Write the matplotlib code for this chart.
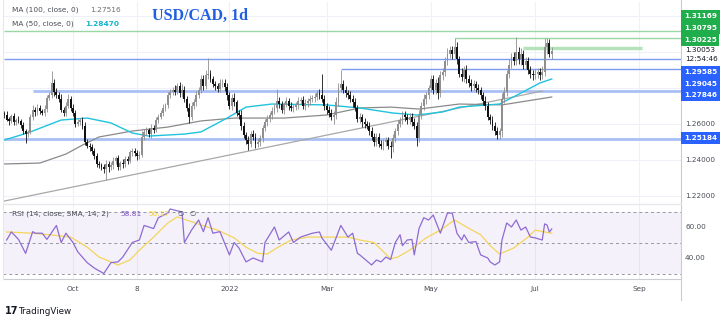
"""USD/CAD 1d в стиле TradingView: свечи, MA, уровни и RSI."""

import matplotlib

matplotlib.use("Agg")

import matplotlib.pyplot as plt
import numpy as np
from matplotlib.lines import Line2D

# ---- данные (индекс бара: 0 = 1 октября 2021) ----
first_bar = -29
first_open = 1.2660

closes = [
    1.2650, 1.2625, 1.2615, 1.2645, 1.2610, 1.2620, 1.2615, 1.2595, 1.2560, 1.2545,
    1.2555, 1.2640, 1.2680, 1.2665, 1.2690, 1.2670, 1.2660, 1.2685, 1.2745, 1.2760,
    1.2830, 1.2780, 1.2760, 1.2740, 1.2680, 1.2660, 1.2700, 1.2740, 1.2690, 1.2660,
    1.2600, 1.2610, 1.2620, 1.2590, 1.2500, 1.2480, 1.2470, 1.2450, 1.2420, 1.2380,
    1.2370, 1.2360, 1.2350, 1.2380, 1.2360, 1.2370, 1.2395, 1.2410, 1.2360, 1.2385,
    1.2375, 1.2405, 1.2395, 1.2445, 1.2450, 1.2440, 1.2420, 1.2430, 1.2530, 1.2555,
    1.2565, 1.2545, 1.2580, 1.2565, 1.2620, 1.2640, 1.2660, 1.2690, 1.2705, 1.2760,
    1.2775, 1.2790, 1.2780, 1.2810, 1.2770, 1.2790, 1.2740, 1.2690, 1.2640, 1.2700,
    1.2720, 1.2760, 1.2790, 1.2850, 1.2810, 1.2870, 1.2880, 1.2850, 1.2820, 1.2810,
    1.2795, 1.2825, 1.2830, 1.2805, 1.2760, 1.2700, 1.2745, 1.2720, 1.2660, 1.2650,
    1.2590, 1.2540, 1.2510, 1.2490, 1.2545, 1.2530, 1.2490, 1.2500, 1.2520, 1.2580,
    1.2610, 1.2630, 1.2650, 1.2670, 1.2690, 1.2730, 1.2710, 1.2680, 1.2710, 1.2730,
    1.2700, 1.2690, 1.2695, 1.2705, 1.2730, 1.2735, 1.2700, 1.2715, 1.2730, 1.2740,
    1.2745, 1.2750, 1.2770, 1.2760, 1.2740, 1.2700, 1.2680, 1.2660, 1.2640, 1.2650,
    1.2720, 1.2800, 1.2820, 1.2790, 1.2770, 1.2760, 1.2740, 1.2720, 1.2690, 1.2630,
    1.2640, 1.2610, 1.2600, 1.2590, 1.2560, 1.2530, 1.2500, 1.2530, 1.2490, 1.2480,
    1.2500, 1.2510, 1.2480, 1.2470, 1.2520, 1.2560, 1.2600, 1.2620, 1.2650, 1.2640,
    1.2620, 1.2640, 1.2610, 1.2590, 1.2520, 1.2650, 1.2700, 1.2740, 1.2760, 1.2800,
    1.2850, 1.2790, 1.2830, 1.2770, 1.2870, 1.2890, 1.2950, 1.2990, 1.3010, 1.2990,
    1.3030, 1.2960, 1.2880, 1.2860, 1.2900, 1.2850, 1.2830, 1.2810, 1.2820, 1.2800,
    1.2790, 1.2760, 1.2730, 1.2700, 1.2640, 1.2620, 1.2590, 1.2560, 1.2540, 1.2560,
    1.2740, 1.2780, 1.2880, 1.2930, 1.2970, 1.2950, 1.3000, 1.2960, 1.2990, 1.2930,
    1.2950, 1.2900, 1.2880, 1.2870, 1.2880, 1.2890, 1.2870, 1.2890, 1.3030, 1.3050,
    1.2990, 1.3005,
]

# тени свечей в пунктах
up_wick = [
    12, 20, 15, 10, 18, 14, 22, 12, 16, 10,
    14, 18, 25, 12, 20, 15, 12, 22, 18, 20,
    66, 20, 18, 15, 25, 14, 20, 28, 16, 22,
    15, 20, 12, 18, 20, 14, 12, 18, 15, 20,
    14, 12, 16, 20, 15, 18, 22, 14, 20, 12,
    18, 15, 20, 12, 16, 14, 18, 20, 30, 15,
    20, 12, 18, 15, 20, 14, 16, 22, 12, 18,
    20, 15, 25, 18, 22, 30, 20, 16, 25, 20,
    18, 22, 15, 25, 20, 28, 84, 22, 18, 20,
    15, 25, 20, 18, 22, 16, 20, 25, 15, 20,
    30, 20, 18, 22, 15, 20, 18, 25, 20, 15,
    18, 20, 16, 22, 20, 66, 18, 20, 15, 22,
    16, 20, 18, 15, 20, 14, 18, 22, 15, 20,
    18, 22, 20, 25, 118, 20, 18, 22, 25, 20,
    30, 25, 81, 22, 20, 18, 25, 20, 22, 18,
    20, 15, 22, 18, 20, 25, 20, 18, 22, 20,
    15, 20, 18, 25, 22, 20, 25, 18, 20, 22,
    18, 20, 22, 25, 20, 30, 22, 25, 20, 18,
    22, 25, 20, 30, 25, 20, 25, 30, 22, 25,
    47, 25, 20, 30, 22, 25, 20, 18, 25, 20,
    22, 18, 20, 25, 20, 18, 22, 20, 25, 20,
    30, 25, 22, 30, 25, 30, 84, 25, 30, 22,
    25, 20, 22, 18, 25, 20, 22, 30, 50, 28,
    20, 25,
]
down_wick = [
    15, 10, 20, 12, 18, 15, 10, 20, 14, 51,
    15, 12, 18, 20, 14, 16, 12, 15, 20, 14,
    18, 22, 15, 20, 14, 18, 16, 12, 20, 15,
    18, 12, 15, 20, 16, 14, 18, 15, 12, 20,
    14, 18, 20, 61, 25, 15, 18, 20, 14, 16,
    20, 15, 18, 14, 22, 16, 20, 15, 12, 18,
    14, 18, 20, 15, 12, 16, 14, 18, 20, 15,
    18, 14, 20, 16, 22, 18, 15, 20, 33, 18,
    16, 20, 15, 18, 22, 14, 20, 18, 16, 20,
    18, 15, 22, 20, 25, 18, 20, 22, 18, 20,
    25, 20, 22, 35, 20, 18, 22, 20, 25, 18,
    20, 22, 18, 20, 16, 25, 20, 18, 22, 16,
    20, 18, 22, 15, 20, 18, 16, 20, 18, 22,
    15, 20, 18, 22, 20, 25, 22, 20, 18, 40,
    20, 22, 25, 20, 18, 22, 20, 25, 18, 20,
    22, 25, 20, 18, 22, 20, 25, 22, 20, 18,
    22, 20, 18, 60, 25, 20, 22, 18, 20, 22,
    20, 18, 22, 20, 40, 22, 20, 25, 30, 22,
    20, 25, 22, 30, 20, 25, 22, 20, 25, 30,
    22, 25, 20, 22, 25, 20, 22, 25, 20, 22,
    25, 20, 22, 25, 20, 22, 25, 20, 22, 25,
    30, 25, 22, 25, 20, 25, 22, 25, 30, 22,
    25, 20, 22, 25, 20, 22, 25, 20, 22, 40,
    15, 30,
]

# скользящие средние (узлы: индекс бара, значение)
ma100_idx = [-29, -14, -3, 4, 11, 25, 40, 54, 68, 89, 107, 121, 134, 146, 163, 181, 202]
ma100_val = [1.2378, 1.2383, 1.2433, 1.2483, 1.2528, 1.2561, 1.2583, 1.2617, 1.2633,
             1.2633, 1.2650, 1.2689, 1.2694, 1.2683, 1.2711, 1.2706, 1.2750]
ma50_idx = [-29, -22, -18, -5, 6, 16, 25, 32, 47, 54, 65, 73, 84, 107, 121, 135, 145,
            156, 163, 180, 189, 197, 202]
ma50_val = [1.2511, 1.2539, 1.2556, 1.2622, 1.2633, 1.2606, 1.2550, 1.2533, 1.2544,
            1.2556, 1.2633, 1.2694, 1.2711, 1.2706, 1.2689, 1.2661, 1.2650, 1.2667,
            1.2694, 1.2711, 1.2772, 1.2828, 1.2850]

rsi_idx = [-28, -26, -23, -20, -17, -16, -13, -11, -7, -5, -3, 0, 2, 6, 9, 13, 16, 19,
           21, 25, 28, 30, 34, 36, 40, 41, 46, 47, 50, 53, 55, 57, 59, 62, 66, 68, 70,
           73, 76, 80, 81, 85, 87, 91, 93, 96, 101, 104, 105, 109, 113, 116, 118, 120,
           121, 126, 128, 130, 132, 134, 136, 138, 139, 141, 143, 144, 146, 148, 150,
           152, 155, 158, 160, 162, 164, 165, 167, 170, 172, 175, 176, 178, 180, 181,
           183, 185, 187, 189, 191, 193, 195, 198, 199, 200, 201, 202]
rsi_val = [51.6, 56.8, 52.0, 43.0, 57.0, 56.0, 56.0, 52.0, 61.0, 50.0, 56.0, 50.0, 44.0,
           37.0, 33.5, 30.0, 37.0, 37.5, 40.6, 50.0, 51.6, 61.0, 59.0, 66.0, 69.0, 71.6,
           69.7, 50.0, 58.0, 64.5, 57.0, 66.0, 56.0, 57.0, 42.0, 50.0, 46.5, 37.5, 40.0,
           37.5, 50.0, 60.0, 51.6, 56.8, 50.0, 53.5, 56.0, 56.8, 53.0, 45.0, 61.0, 53.5,
           56.0, 43.0, 42.0, 35.5, 38.7, 37.5, 40.6, 39.0, 50.0, 55.0, 48.0, 51.6, 52.0,
           42.0, 59.0, 66.0, 64.5, 67.7, 56.0, 69.0, 69.0, 56.0, 51.6, 55.0, 50.0, 50.6,
           42.0, 40.0, 37.5, 35.5, 37.5, 51.6, 62.6, 60.0, 64.5, 58.0, 60.0, 53.5, 53.0,
           51.6, 62.0, 61.3, 56.8, 58.7]
rsi_ma_idx = [-28, -17, -10, -1, 6, 11, 16, 19, 24, 28, 34, 40, 44, 48, 54, 61, 68, 73,
              78, 82, 86, 92, 99, 107, 116, 121, 127, 134, 137, 142, 149, 155, 161, 166,
              172, 176, 180, 186, 192, 195, 199, 202]
rsi_ma_val = [56.8, 56.0, 55.0, 53.5, 47.0, 40.6, 37.5, 35.5, 38.7, 45.0, 53.5, 62.6,
              66.5, 64.5, 61.3, 58.0, 53.0, 47.0, 43.0, 42.6, 46.5, 51.6, 53.5, 53.5,
              53.5, 51.6, 50.0, 39.5, 40.6, 45.0, 53.0, 58.0, 64.5, 60.0, 55.0, 48.0,
              42.6, 46.5, 53.5, 58.0, 56.8, 56.0]

# наклонная линия поддержки
trend_idx = [-29, 198]
trend_val = [1.2172, 1.2783]

# горизонтальные уровни: цена, начало (индекс бара), конец, цвет, толщина
levels = [
    (1.31169, -29, 257, "#9ad7a4", 1.0),
    (1.30795, 161, 257, "#9ad7a4", 1.0),
    (1.30225, 190, 240, "#b5e2bd", 2.5),
    (1.29585, -29, 257, "#7d9cf0", 1.0),
    (1.29045, 113, 257, "#7d9cf0", 1.0),
    (1.27846, -17, 257, "#a9c0f5", 2.0),
    (1.25184, -29, 257, "#a9c0f5", 2.0),
]

# подписи правой шкалы: текст, y в пикселях, фон
price_labels = [
    ("1.31169", 16, "#1fae4b"),
    ("1.30795", 28, "#1fae4b"),
    ("1.30225", 40, "#1fae4b"),
    ("1.30053", 50, None),
    ("12:54:46", 59, None),
    ("1.29585", 72, "#2962ff"),
    ("1.29045", 84, "#2962ff"),
    ("1.27846", 95, "#2962ff"),
    ("1.26000", 124, None),
    ("1.25184", 138, "#2962ff"),
    ("1.24000", 160, None),
    ("1.22000", 196, None),
    ("60.00", 227, None),
    ("40.00", 258, None),
]

time_ticks = [0, 27, 66, 107, 151, 195, 239]
time_labels = ["Oct", "8", "2022", "Mar", "May", "Jul", "Sep"]

# ---- геометрия в пикселях ----
W, H = 725, 326
X_LEFT, X_RIGHT = 3, 681
PRICE_TOP, PRICE_BOT = 2, 204
RSI_BOT = 279
XLIM = ((X_LEFT - 73) / 2.37, (X_RIGHT - 73) / 2.37)


def fx(px):
    return px / W


def fy(py):
    return 1 - py / H


closes = np.array(closes)
idx = np.arange(first_bar, first_bar + len(closes))
opens = np.concatenate([[first_open], closes[:-1]])
highs = np.maximum(opens, closes) + np.array(up_wick) / 10000
lows = np.minimum(opens, closes) - np.array(down_wick) / 10000

fig = plt.figure(figsize=(W / 100, H / 100), dpi=100)
fig.patch.set_facecolor("white")

ax = fig.add_axes([fx(X_LEFT), fy(PRICE_BOT), fx(X_RIGHT - X_LEFT),
                   (PRICE_BOT - PRICE_TOP) / H])
ax_rsi = fig.add_axes([fx(X_LEFT), fy(RSI_BOT), fx(X_RIGHT - X_LEFT),
                       (RSI_BOT - PRICE_BOT) / H])

for a in (ax, ax_rsi):
    a.set_xlim(*XLIM)
    a.set_xticks([])
    a.set_yticks([])
    for s in a.spines.values():
        s.set_visible(False)
    for t in time_ticks:
        a.axvline(t, color="#eef1f7", lw=0.8, zorder=0)

# цена
ax.set_ylim(1.26 - (PRICE_BOT - 124) / 1800, 1.26 + (124 - PRICE_TOP) / 1800)
for p in [1.22, 1.24, 1.26, 1.28, 1.30, 1.32]:
    ax.axhline(p, color="#eef1f7", lw=0.8, zorder=0)

for price, x0, x1, color, lw in levels:
    ax.plot([x0, x1], [price, price], color=color, lw=lw, zorder=1,
            solid_capstyle="butt")

ax.plot(trend_idx, trend_val, color="#a8a8a8", lw=0.9, zorder=1)
ax.plot(ma100_idx, ma100_val, color="#8a8a8a", lw=0.9, zorder=2)
ax.plot(ma50_idx, ma50_val, color="#1fc3dd", lw=1.0, zorder=2)

up = closes >= opens
colors = np.where(up, "#8f8f8f", "#111111")
ax.vlines(idx, lows, highs, colors=colors, lw=0.6, zorder=3)
body_h = np.maximum(np.abs(closes - opens), 0.0002)
ax.bar(idx, body_h, bottom=np.minimum(opens, closes), width=0.78,
       color=colors, linewidth=0, zorder=4)

# RSI
ax_rsi.set_ylim(30 - (RSI_BOT - 273.5) / 1.55, 70 + (211.5 - PRICE_BOT) / 1.55)
ax_rsi.axhspan(30, 70, color="#7e57c2", alpha=0.08, lw=0, zorder=0)
for lvl in (70, 50, 30):
    ax_rsi.axhline(lvl, color="#9598a1", lw=0.7, ls=(0, (3, 3)), zorder=1)
ax_rsi.plot(rsi_ma_idx, rsi_ma_val, color="#f5d55a", lw=0.9, zorder=2)
ax_rsi.plot(rsi_idx, rsi_val, color="#8e6bd1", lw=0.9, zorder=3)

# рамки и разделители
line_kw = dict(transform=fig.transFigure, color="#c9ccd3", lw=0.8)
fig.add_artist(Line2D([fx(X_RIGHT), fx(X_RIGHT)], [fy(0), fy(300)], **line_kw))
fig.add_artist(Line2D([fx(X_LEFT), fx(X_RIGHT)], [fy(PRICE_BOT), fy(PRICE_BOT)],
                      transform=fig.transFigure, color="#e6e8ee", lw=1.0))
fig.add_artist(Line2D([fx(X_LEFT), fx(X_RIGHT)], [fy(RSI_BOT), fy(RSI_BOT)], **line_kw))
fig.add_artist(Line2D([fx(X_LEFT), fx(X_LEFT)], [fy(0), fy(RSI_BOT)],
                      transform=fig.transFigure, color="#e6e8ee", lw=0.8))

# подписи оси времени
for t, lab in zip(time_ticks, time_labels):
    px = 73 + 2.37 * t
    fig.text(fx(px), fy(289), lab, ha="center", va="center", fontsize=5.2,
             color="#4a4d57")

# правая шкала
for text, py, bg in price_labels:
    if bg:
        fig.text(fx(684), fy(py), text, ha="left", va="center", fontsize=5.2,
                 color="white", fontweight="bold",
                 bbox=dict(boxstyle="square,pad=0.35", fc=bg, ec="none"))
    else:
        fig.text(fx(685), fy(py), text, ha="left", va="center", fontsize=5.2,
                 color="#131722" if py < 70 else "#4a4d57")

# легенды
fig.text(fx(12), fy(10), "MA (100, close, 0)", fontsize=5.3, color="#4a4d57",
         va="center")
fig.text(fx(90), fy(10), "1.27516", fontsize=5.3, color="#6f6f6f", va="center")
fig.text(fx(12), fy(24), "MA (50, close, 0)", fontsize=5.3, color="#4a4d57",
         va="center")
fig.text(fx(85), fy(24), "1.28470", fontsize=5.3, color="#12b5cb",
         fontweight="bold", va="center")
fig.text(fx(152), fy(16), "USD/CAD, 1d", fontsize=11.5, color="#1f5fe0",
         fontweight="bold", family="Liberation Serif", va="center")

fig.text(fx(12), fy(214), "RSI (14, close, SMA, 14, 2)", fontsize=5.3,
         color="#4a4d57", va="center")
fig.text(fx(120), fy(214), "58.81", fontsize=5.3, color="#7e57c2", va="center")
fig.text(fx(148), fy(214), "56.17", fontsize=5.3, color="#f2d240", va="center")
fig.text(fx(177), fy(214), "\u2205", fontsize=5.3, color="#4a4d57", va="center")
fig.text(fx(189), fy(214), "\u2205", fontsize=5.3, color="#4a4d57", va="center")

# логотип
fig.text(fx(5), fy(311), "17", fontsize=7, color="#131722", fontweight="bold",
         va="center")
fig.text(fx(18), fy(311), "TradingView", fontsize=6.3, color="#131722",
         va="center")

fig.savefig("out.png", dpi=100)
plt.close(fig)
